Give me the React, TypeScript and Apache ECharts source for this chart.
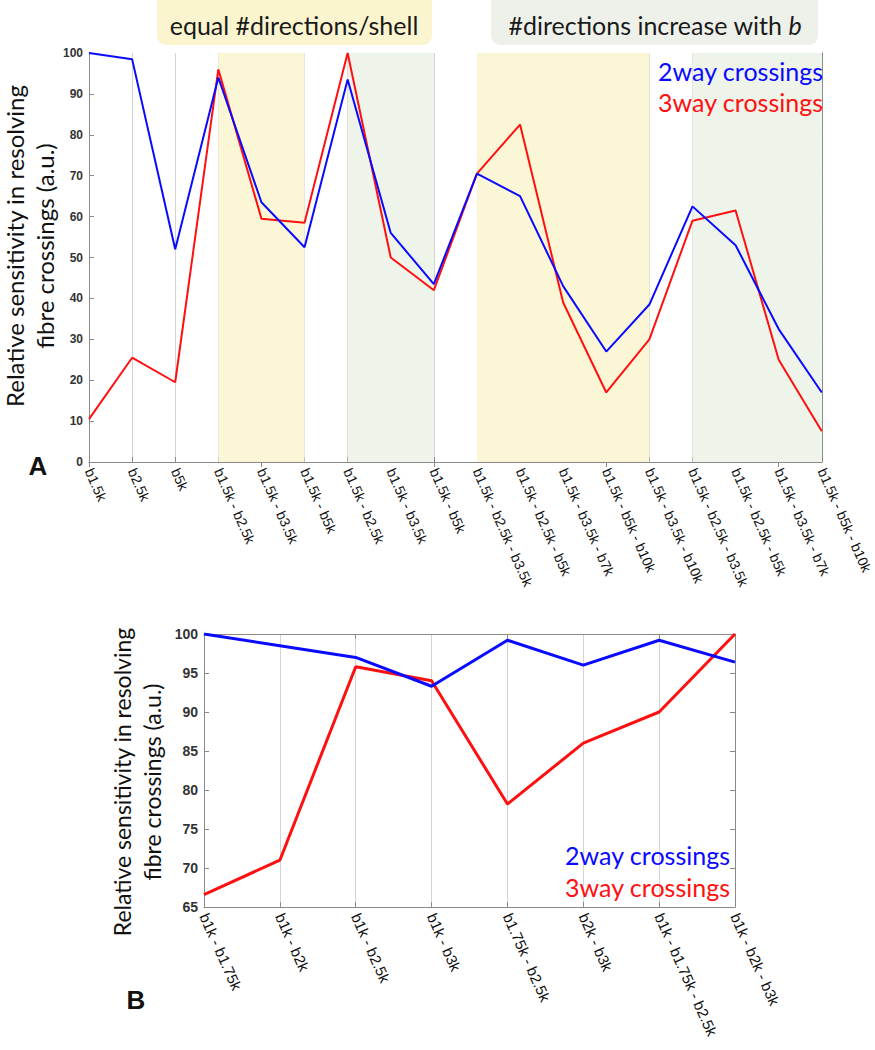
import React, { useEffect, useRef } from "react";
import * as echarts from "echarts";

const catsA = [
  "b1.5k", "b2.5k", "b5k",
  "b1.5k - b2.5k", "b1.5k - b3.5k", "b1.5k - b5k",
  "b1.5k - b2.5k", "b1.5k - b3.5k", "b1.5k - b5k",
  "b1.5k - b2.5k - b3.5k", "b1.5k - b2.5k - b5k", "b1.5k - b3.5k - b7k", "b1.5k - b5k - b10k", "b1.5k - b3.5k - b10k",
  "b1.5k - b2.5k - b3.5k", "b1.5k - b2.5k - b5k", "b1.5k - b3.5k - b7k", "b1.5k - b5k - b10k",
];
const twoWayA = [100, 98.5, 52, 94, 63.5, 52.5, 93.5, 56, 43.5, 70.5, 65, 43, 27, 38.5, 62.5, 53, 32.5, 17];
const threeWayA = [10.5, 25.5, 19.5, 96, 59.5, 58.5, 100, 50, 42, 70.5, 82.5, 39, 17, 30, 59, 61.5, 25, 7.5];

// shaded category ranges [startIndex, endIndex]
const equalShellRanges = [[3, 5], [9, 13]];
const increaseRanges = [[6, 8], [14, 17]];

const catsB = [
  "b1k - b1.75k", "b1k - b2k", "b1k - b2.5k", "b1k - b3k",
  "b1.75k - b2.5k", "b2k - b3k", "b1k - b1.75k - b2.5k", "b1k - b2k - b3k",
];
const twoWayB = [100, 98.5, 97, 93.3, 99.2, 96, 99.2, 96.4];
const threeWayB = [66.6, 71, 95.8, 94, 78.2, 86, 90, 100];

const yTitle = "Relative sensitivity in resolving\nfibre crossings (a.u.)";
const BLUE = "#0a0aff";
const RED = "#ff1010";
const AXIS = "#8a8a8a";
const YELLOW = "#fbf7d6";
const GREEN = "#eff4ea";

export default function App() {
  const ref = useRef<HTMLDivElement>(null);
  useEffect(() => {
    if (!ref.current) return;
    const chart = echarts.init(ref.current, null, { renderer: "svg" });
    const sans = "Lato, 'Liberation Sans', sans-serif";
    const arial = "'Liberation Sans', Arial, sans-serif";

    const xCommon = (data: string[], gridIndex: number, top: boolean, fs: number) => ({
      type: "category",
      data,
      gridIndex,
      position: top ? "top" : "bottom",
      boundaryGap: false,
      axisLine: { show: true, lineStyle: { color: AXIS, width: 1 } },
      axisTick: { show: true, inside: true, length: 5, alignWithLabel: true, lineStyle: { color: AXIS } },
      axisLabel: top
        ? { show: false }
        : { show: true, interval: 0, rotate: -66, fontSize: fs, color: "#111", fontFamily: arial, margin: 7 },
      splitLine: top ? { show: false } : { show: true, lineStyle: { color: "#d4d4d4", width: 1 } },
    });

    const yCommon = (gridIndex: number, min: number, max: number, interval: number, right: boolean, fs: number) => ({
      type: "value",
      gridIndex,
      position: right ? "right" : "left",
      min,
      max,
      interval,
      axisLine: { show: true, lineStyle: { color: AXIS, width: 1 } },
      axisTick: { show: true, inside: true, length: 5, lineStyle: { color: AXIS } },
      axisLabel: right
        ? { show: false }
        : { show: true, fontSize: fs, fontWeight: "bold", color: "#333", fontFamily: arial, margin: 6 },
      splitLine: { show: false },
    });

    const markData = [
      ...equalShellRanges.map(([a, b]) => [{ xAxis: a, itemStyle: { color: YELLOW } }, { xAxis: b }]),
      ...increaseRanges.map(([a, b]) => [{ xAxis: a, itemStyle: { color: GREEN } }, { xAxis: b }]),
    ];

    chart.setOption({
      animation: false,
      grid: [
        { left: 89, right: 48, top: 53, bottom: 588, containLabel: false },
        { left: 204, right: 140, top: 634, bottom: 143, containLabel: false },
      ],
      xAxis: [
        xCommon(catsA, 0, false, 14), xCommon(catsA, 0, true, 14),
        xCommon(catsB, 1, false, 15), xCommon(catsB, 1, true, 15),
      ],
      yAxis: [
        yCommon(0, 0, 100, 10, false, 12),
        yCommon(0, 0, 100, 10, true, 12),
        yCommon(1, 65, 100, 5, false, 14),
        yCommon(1, 65, 100, 5, true, 14),
      ],
      series: [
        {
          type: "line", xAxisIndex: 0, yAxisIndex: 0, data: twoWayA, showSymbol: false,
          lineStyle: { color: BLUE, width: 2 }, itemStyle: { color: BLUE }, z: 3,
          markArea: { silent: true, data: markData },
        },
        {
          type: "line", xAxisIndex: 0, yAxisIndex: 0, data: threeWayA, showSymbol: false,
          lineStyle: { color: RED, width: 2 }, itemStyle: { color: RED }, z: 2,
        },
        {
          type: "line", xAxisIndex: 2, yAxisIndex: 2, data: twoWayB, showSymbol: false,
          lineStyle: { color: BLUE, width: 3 }, itemStyle: { color: BLUE }, z: 3,
        },
        {
          type: "line", xAxisIndex: 2, yAxisIndex: 2, data: threeWayB, showSymbol: false,
          lineStyle: { color: RED, width: 3 }, itemStyle: { color: RED }, z: 2,
        },
      ],
      graphic: [
        { type: "rect", shape: { x: 157, y: -10, width: 275, height: 55, r: 9 }, style: { fill: "#fbf5cf" }, z: 1 },
        { type: "rect", shape: { x: 491, y: -10, width: 327, height: 55, r: 9 }, style: { fill: "#eef1ea" }, z: 1 },
        {
          type: "text", x: 294, y: 25, z: 2,
          style: { text: "equal #directions/shell", font: "25px " + sans, fill: "#1a1a1a", align: "center", verticalAlign: "middle" },
        },
        {
          type: "text", x: 655, y: 25, z: 2,
          style: {
            text: "#directions increase with {i|b}", font: "25px " + sans, fill: "#1a1a1a", align: "center", verticalAlign: "middle",
            rich: { i: { fontStyle: "italic", fontSize: 25, fontFamily: sans, fill: "#1a1a1a" } },
          },
        },
        {
          type: "text", x: 823, y: 71, z: 5,
          style: { text: "2way crossings", font: "25px " + sans, fill: BLUE, align: "right", verticalAlign: "middle" },
        },
        {
          type: "text", x: 823, y: 102, z: 5,
          style: { text: "3way crossings", font: "25px " + sans, fill: RED, align: "right", verticalAlign: "middle" },
        },
        {
          type: "text", x: 29, y: 246, rotation: Math.PI / 2, z: 5,
          style: { text: yTitle, font: "24px " + sans, lineHeight: 30, fill: "#111", align: "center", verticalAlign: "middle" },
        },
        {
          type: "text", x: 38, y: 466, z: 5,
          style: { text: "A", font: "bold 26px " + arial, fill: "#111", align: "center", verticalAlign: "middle" },
        },
        {
          type: "text", x: 730, y: 855, z: 5,
          style: { text: "2way crossings", font: "25px " + sans, fill: BLUE, align: "right", verticalAlign: "middle" },
        },
        {
          type: "text", x: 730, y: 887, z: 5,
          style: { text: "3way crossings", font: "25px " + sans, fill: RED, align: "right", verticalAlign: "middle" },
        },
        {
          type: "text", x: 137, y: 782, rotation: Math.PI / 2, z: 5,
          style: { text: yTitle, font: "23px " + sans, lineHeight: 30, fill: "#111", align: "center", verticalAlign: "middle" },
        },
        {
          type: "text", x: 136, y: 1000, z: 5,
          style: { text: "B", font: "bold 26px " + arial, fill: "#111", align: "center", verticalAlign: "middle" },
        },
      ],
    });
    return () => chart.dispose();
  }, []);
  return <div ref={ref} style={{ position: "absolute", left: 0, top: 0, width: 875, height: 1050 }} />;
}
